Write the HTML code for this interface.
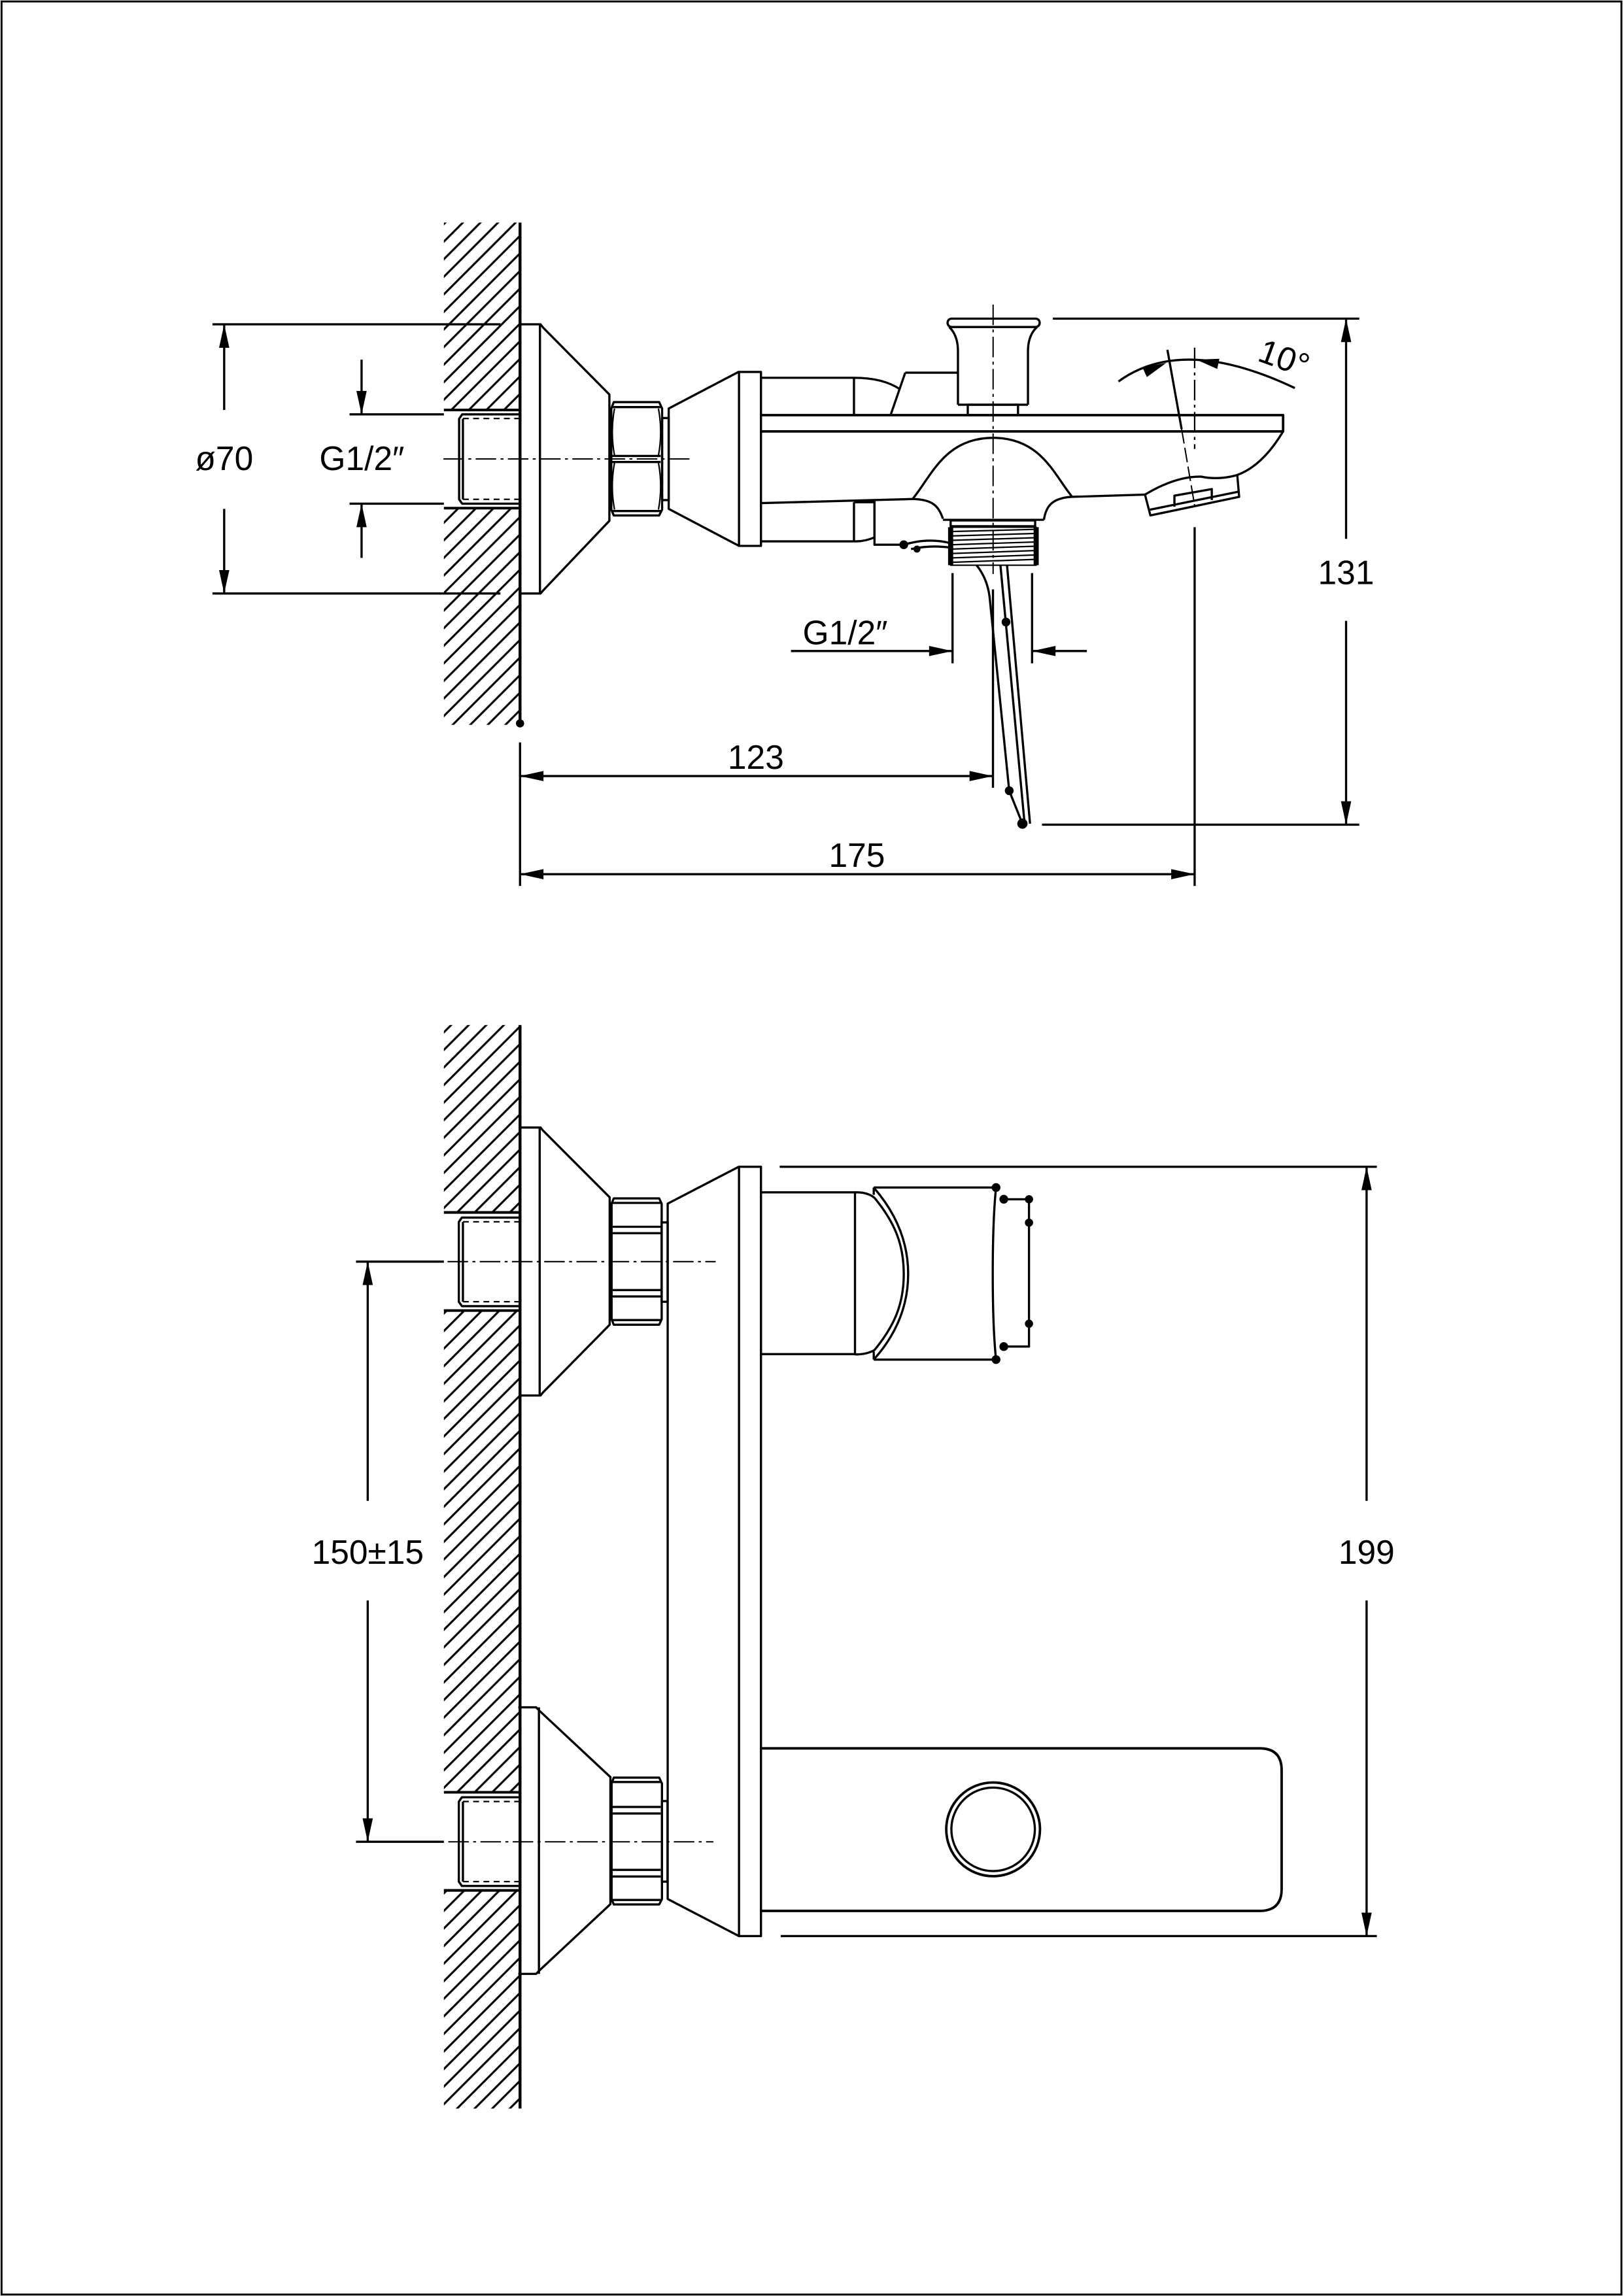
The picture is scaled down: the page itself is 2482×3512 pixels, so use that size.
<!DOCTYPE html>
<html><head><meta charset="utf-8"><style>html,body{margin:0;padding:0;background:#fff}svg{display:block}</style></head><body>
<svg xmlns="http://www.w3.org/2000/svg" width="2482" height="3512" viewBox="0 0 1108 1568">
<defs>
<pattern id="h" patternUnits="userSpaceOnUse" width="12" height="12">
<path d="M-3,3 L3,-3 M0,12 L12,0 M9,15 L15,9" stroke="#000" stroke-width="1.4"/>
</pattern>
</defs>
<rect x="0" y="0" width="1108" height="1568" fill="#fff"/>
<rect x="1" y="1" width="1106" height="1566" fill="none" stroke="#000" stroke-width="1.3"/>
<g fill="none" stroke="#000" stroke-width="1.5" stroke-linejoin="round">
<!-- ===== TOP VIEW ===== -->
<rect x="303" y="152" width="52" height="343" fill="url(#h)" stroke="none"/>
<rect x="302" y="280" width="53" height="67" fill="#fff" stroke="none"/>
<path d="M303,280 H355 M303,347 H355" stroke-width="1.8"/>
<path d="M355,152 V495" stroke-width="2"/>
<circle cx="355" cy="494" r="2.8" fill="#000" stroke="none"/>
<path d="M354.5,283 H315.5 L313.4,286 V341 L315.5,344 H354.5 M316,286 V341"/>
<path d="M316,285.8 H354 M316,341 H354" stroke-dasharray="4 3" stroke-width="1"/>
<path d="M145,221.5 H341.6 M145,405.3 H341.6 M153,221.5 V280 M153,347.5 V405.3"/>
<path d="M238.6,283 H303 M238.6,344 H303 M246.8,245.6 V283 M246.8,344 V381"/>
<path d="M354.5,221.5 H369 L371,224 L416,269.4 V355.7 L371,403 L369,405.3 H354.5 M368.6,221.5 V405.3"/>
<path d="M419,274.6 H450 L452,279 V348 L450,352 H419 L417.3,348 V279 Z M418,278 H451 M418,349 H451 M418,311.4 H451 M418,315.5 H451"/>
<path d="M419.5,279 Q416.5,295 419.5,311 M449.5,279 Q452.5,295 449.5,311 M419.5,316 Q416.5,332 419.5,348 M449.5,316 Q452.5,332 449.5,348" stroke-width="1"/>
<rect x="452" y="285.5" width="4.5" height="56"/>
<path d="M504.5,253.8 L456.5,279 V347.5 L504.5,372.8"/>
<rect x="504.5" y="254" width="15" height="118.8"/>
<path d="M519.5,258 H583 V283.5 M583,258 Q603,258 614.7,266 M618,254.5 L608,283.5 M618,254.5 H654"/>
<path d="M654,276.4 V240 Q654,229 648,223.3 M701.8,276.4 V240 Q701.8,229 708,223.3 M654,276.4 H701.8"/>
<rect x="646.9" y="217.6" width="62.9" height="5.7" rx="2.8"/>
<rect x="660.7" y="276.4" width="34.3" height="7.1"/>
<path d="M519.5,283.5 H876 V294.6 H519.5" stroke-width="1.7"/>
<path d="M876,294.6 Q862,318 844.7,324.4 Q832,328 820,325.5 Q803,325 781.7,337.8 L785.4,352 L846,339.3 L844.7,324.4"/>
<path d="M784,348.3 L845.5,335.8 M801.8,346 V338.5 L827.3,334 V341.5"/>
<path d="M732,339.3 L781.7,337.8"/>
<path d="M623,340.8 C636,325 645,299 678,299 C711,299 720,325 732,339.3"/>
<path d="M623,340.8 C637,341 641,346 643.7,354.2 M732,339.3 C718,340 714,346 712.7,355 M643.7,355 H712.7"/>
<rect x="649" y="355.4" width="57.7" height="4"/>
<rect x="649" y="360" width="58.4" height="26" stroke-width="1"/>
<path d="M649,360 V386 M707.4,360 V386" stroke-width="3.5"/>
<path d="M650,363 L707,361.5 M650,366 L707,364.3 M650,369 L707,367.2 M650,372 L707,370.1 M650,375 L707,373 M650,378 L707,376 M650,381 L707,379 M650,384 L707,382" stroke-width="1"/>
<path d="M519.5,343.6 L623,340.8 M519.5,369.7 H583 V343 M583,343 H597 V367 Q590,370 583,369.7"/>
<path d="M597,342 V372 H617 M617,372 Q634,367 649,371 M622,375 Q635,372 649,374"/>
<circle cx="617" cy="372" r="3" fill="#000" stroke="none"/>
<circle cx="626" cy="375" r="2.4" fill="#000" stroke="none"/>
<path d="M666.7,386 Q674,395 675.6,407.7 L689,540 M683,386 L699.5,562.5 M687.5,386 L703.2,562.5 M689,540 L698,562.5"/>
<circle cx="686.8" cy="424.8" r="3" fill="#000" stroke="none"/>
<circle cx="689" cy="540" r="3" fill="#000" stroke="none"/>
<circle cx="698" cy="562.5" r="3.5" fill="#000" stroke="none"/>
<path d="M302.7,313.4 H473.7 M678,208 V392" stroke-width="0.9" stroke-dasharray="14 3 2 3"/>
<path d="M797,238.9 L806.7,293"/>
<path d="M806.7,293 L815.6,345.3" stroke-width="0.9" stroke-dasharray="10 3"/>
<path d="M815.6,237.4 V306.6" stroke-width="1" stroke-dasharray="14 3 2 3"/>
<path d="M815.6,360 V605"/>
<path d="M763.6,260.5 Q807.4,228.6 884,265"/>
<path d="M718.8,217.6 H928 M711.4,563.2 H928 M919,217.6 V368 M919,424 V563.2"/>
<path d="M650.3,391.4 V453 M704.6,391.4 V453 M540,444.6 H650.3 M704.6,444.6 H742"/>
<path d="M677.9,402.5 V538 M355,530 H677.9 M355,507 V605 M355,597 H815.6"/>

<!-- ===== BOTTOM VIEW ===== -->
<rect x="303" y="700" width="52" height="740" fill="url(#h)" stroke="none"/>
<rect x="302" y="828" width="53" height="67" fill="#fff" stroke="none"/>
<rect x="302" y="1224" width="53" height="67" fill="#fff" stroke="none"/>
<path d="M303,828 H355 M303,895 H355 M303,1224 H355 M303,1291 H355" stroke-width="1.8"/>
<path d="M355,700 V1440" stroke-width="2"/>
<path d="M354,831.5 H315.3 L313.2,834.5 V889 L315.3,892 H354 M316,834.5 V889"/>
<path d="M316,834.4 H354 M316,889 H354" stroke-dasharray="4 3" stroke-width="1"/>
<path d="M354,1227.4 H315.3 L313.2,1230.4 V1285 L315.3,1288 H354 M316,1230.4 V1285"/>
<path d="M316,1230.3 H354 M316,1285 H354" stroke-dasharray="4 3" stroke-width="1"/>
<path d="M354.2,770 H369 L370.6,772 L416.2,817.7 V904.7 L370.6,951 L369,953 H354.2 M368.4,770 V953"/>
<path d="M419,818.4 H450 L451.7,822 V901 L450,904.7 H419 L417.5,901 V822 Z M418,821.5 H451 M418,901.5 H451 M418,837.8 H451 M418,842.2 H451 M418,881 H451 M418,885.4 H451"/>
<rect x="451.7" y="834.8" width="4.1" height="54.2"/>
<path d="M353.8,1166 H366 L367.9,1168 L416.7,1213.6 V1300.4 L367.9,1346 L366,1348 H353.8 M367.9,1166 V1348"/>
<path d="M419,1214 H450 L451.9,1218 V1297 L450,1300.6 H419 L417.5,1297 V1218 Z M418,1217 H451 M418,1297.5 H451 M418,1234 H451 M418,1238.5 H451 M418,1277 H451 M418,1281.5 H451"/>
<rect x="451.9" y="1230" width="3.8" height="55"/>
<path d="M504.4,796.8 L455.8,822 V1296.9 L504.5,1322.2"/>
<rect x="504.5" y="796.8" width="15" height="525.4"/>
<rect x="519.5" y="814.3" width="64.2" height="110.5"/>
<path d="M583.7,814.3 Q592,814 597,818 C611,835 617,850 617,870 C617,890 611,905 597,922 Q592,925 583.7,925"/>
<path d="M596.5,811 C613,830 620,850 620,870 C620,890 613,910 596.5,928.5 M596.5,811 V816 M596.5,923 V928.5"/>
<path d="M596.5,811 H680 M596.5,928.5 H680 M680,811 C677,840 677,900 680,928.5"/>
<path d="M685.3,819 H702.5 V919.6 H685.3"/>
<circle cx="680" cy="811" r="3" fill="#000" stroke="none"/>
<circle cx="685.3" cy="819" r="3" fill="#000" stroke="none"/>
<circle cx="702.5" cy="819" r="2.8" fill="#000" stroke="none"/>
<circle cx="702.5" cy="835" r="2.8" fill="#000" stroke="none"/>
<circle cx="702.5" cy="904" r="2.8" fill="#000" stroke="none"/>
<circle cx="685.3" cy="919.6" r="3" fill="#000" stroke="none"/>
<circle cx="680" cy="928.5" r="3" fill="#000" stroke="none"/>
<path d="M519.8,1194 H860 Q875,1194 875,1209 V1290 Q875,1305 860,1305 H519.8" stroke-width="1.7"/>
<circle cx="678" cy="1249.3" r="32" stroke-width="1.7"/>
<circle cx="678" cy="1249.3" r="28.5" stroke-width="1.5"/>
<path d="M305.5,861.6 H488.6 M306,1257.8 H487" stroke-width="0.9" stroke-dasharray="14 3 2 3"/>
<path d="M532.3,796.8 H940 M533,1322.2 H940 M933,796.8 V1025 M933,1093 V1322.2"/>
<path d="M243,861.6 H303 M243,1257.8 H303 M251,861.6 V1025 M251,1093 V1257.8"/>
</g>
<g fill="#000" stroke="none">
<polygon points="153,221.5 149.5,237.5 156.5,237.5"/>
<polygon points="153,405.3 149.5,389.3 156.5,389.3"/>
<polygon points="246.8,283 243.3,267 250.3,267"/>
<polygon points="246.8,344 243.3,360 250.3,360"/>
<polygon points="919,217.6 915.5,233.6 922.5,233.6"/>
<polygon points="919,563.2 915.5,547.2 922.5,547.2"/>
<polygon points="355,530 371,526.5 371,533.5"/>
<polygon points="677.9,530 661.9,526.5 661.9,533.5"/>
<polygon points="355,597 371,593.5 371,600.5"/>
<polygon points="815.6,597 799.6,593.5 799.6,600.5"/>
<polygon points="650.3,444.6 634.3,441.1 634.3,448.1"/>
<polygon points="704.6,444.6 720.6,441.1 720.6,448.1"/>
<polygon points="933,796.8 929.5,812.8 936.5,812.8"/>
<polygon points="933,1322.2 929.5,1306.2 936.5,1306.2"/>
<polygon points="251,861.6 247.5,877.6 254.5,877.6"/>
<polygon points="251,1257.8 247.5,1241.8 254.5,1241.8"/>
<polygon points="796.3,247.8 780,251 783,257.5"/>
<polygon points="816.8,245.6 832.5,245 831,252"/>
</g>
<g font-family="'Liberation Sans', 'DejaVu Sans', sans-serif" font-size="23" fill="#000" text-anchor="middle">
<text x="153" y="321">ø70</text>
<text x="247" y="321">G1/2″</text>
<text x="577" y="440">G1/2″</text>
<text x="919" y="399">131</text>
<text x="516" y="525">123</text>
<text x="585" y="592">175</text>
<text x="251" y="1068">150±15</text>
<text x="933" y="1068">199</text>
<text transform="translate(874,252) rotate(20)">10°</text>
</g>
</svg>
</body></html>
